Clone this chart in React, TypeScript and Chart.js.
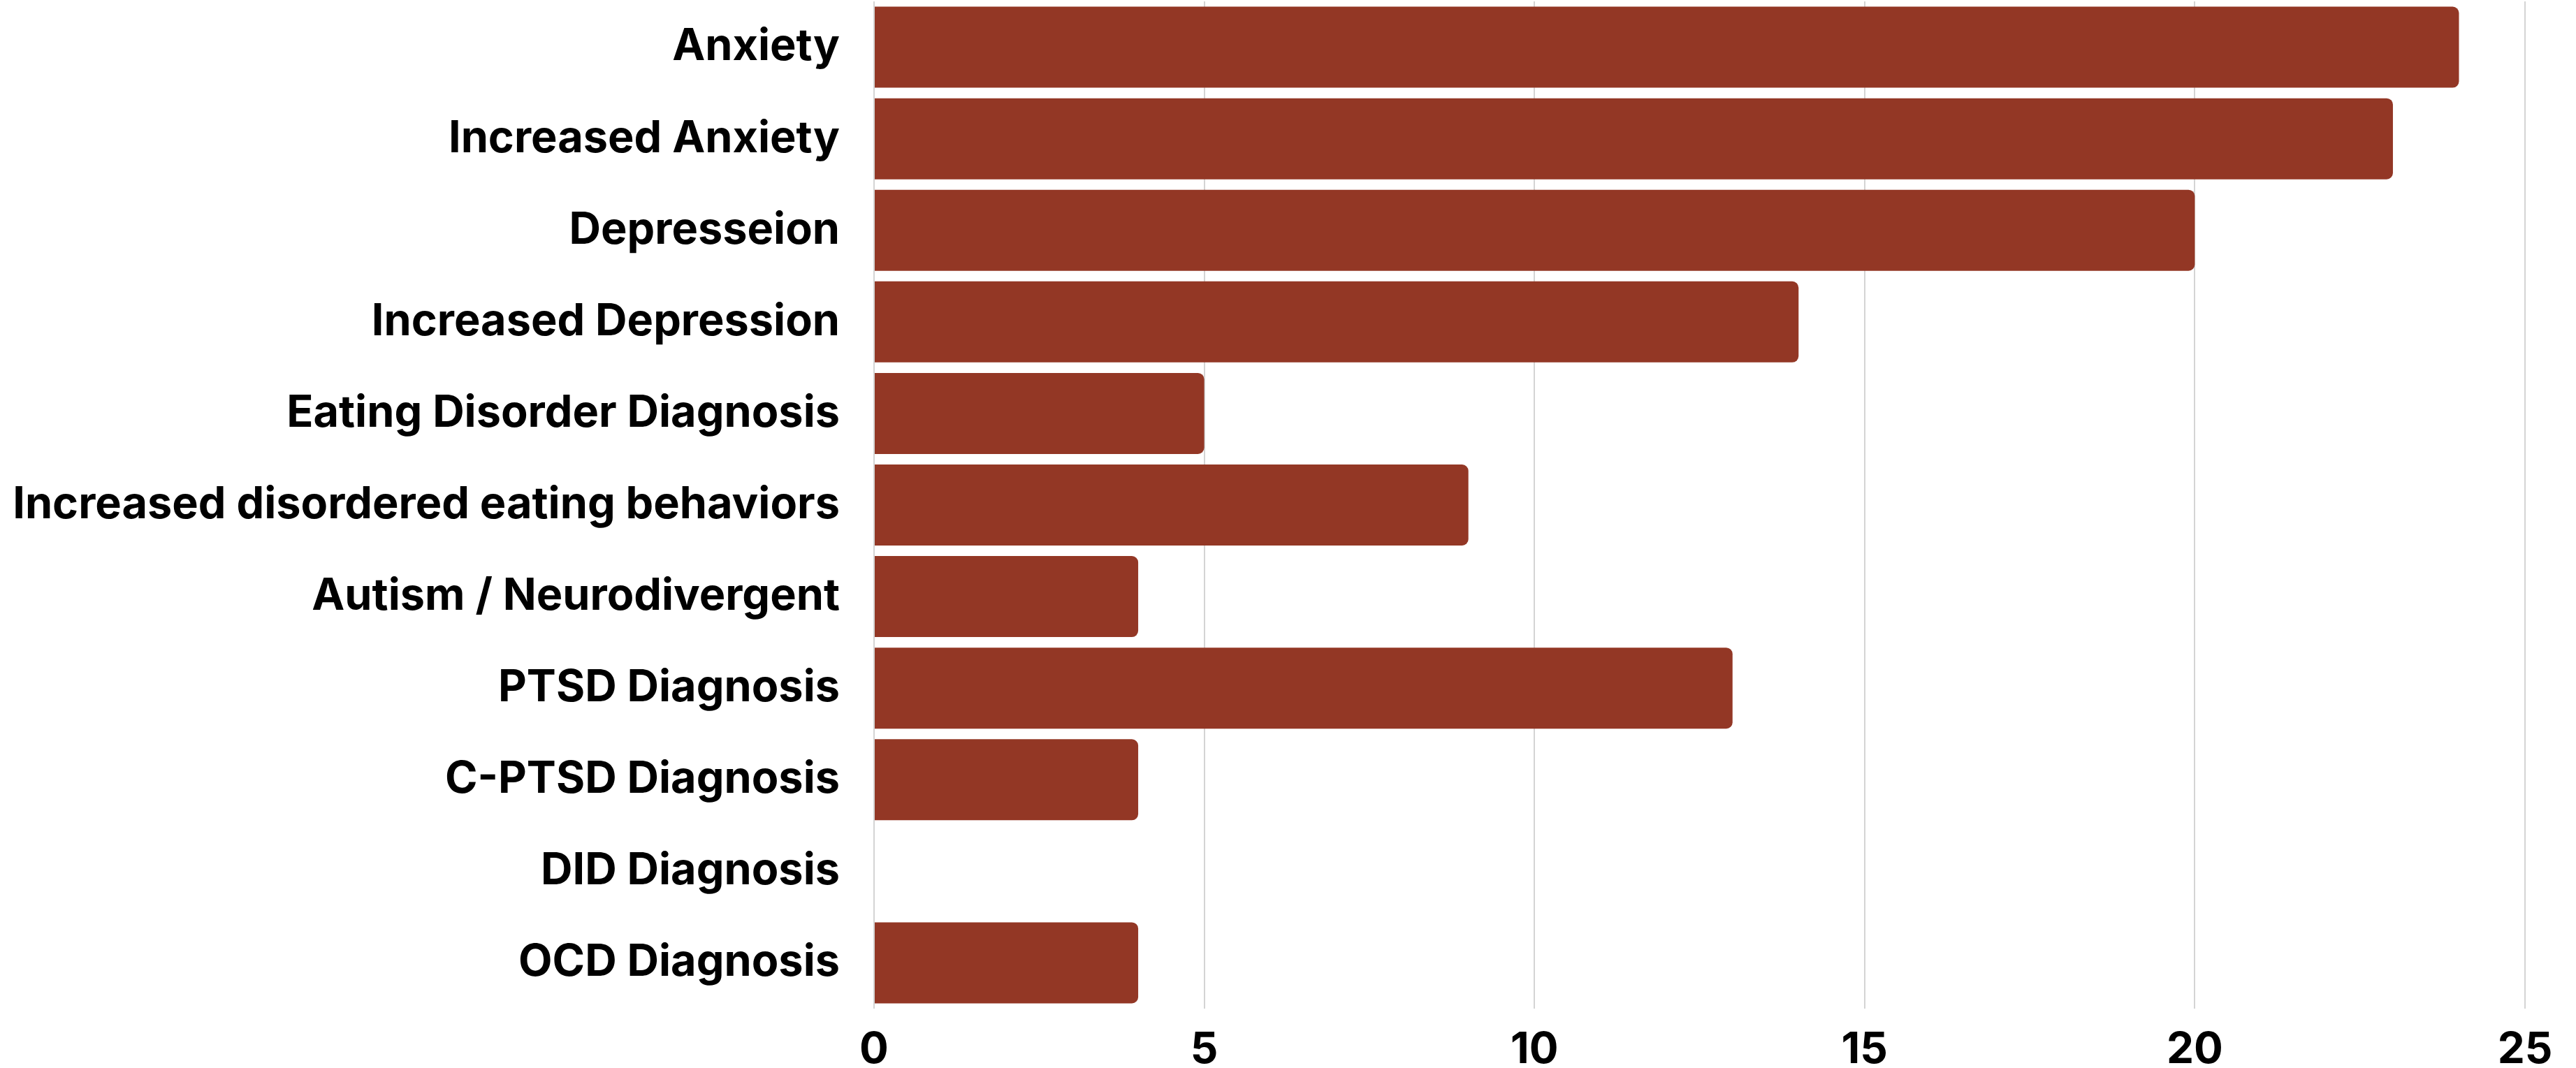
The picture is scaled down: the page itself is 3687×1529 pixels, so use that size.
import React, { useEffect, useRef } from "react";
import { Chart, registerables } from "chart.js";

Chart.register(...registerables);

const categories = [
  "Anxiety",
  "Increased Anxiety",
  "Depresseion",
  "Increased Depression",
  "Eating Disorder Diagnosis",
  "Increased disordered eating behaviors",
  "Autism / Neurodivergent",
  "PTSD Diagnosis",
  "C-PTSD Diagnosis",
  "DID Diagnosis",
  "OCD Diagnosis",
];
const counts = [24, 23, 20, 14, 5, 9, 4, 13, 4, 0, 4];
const xTicks = [0, 5, 10, 15, 20, 25];

const BAR_COLOR = "#933725";
const FONT = "Inter";

export default function App() {
  const ref = useRef<HTMLCanvasElement | null>(null);
  useEffect(() => {
    document.body.style.margin = "0";
    const ctx = ref.current!;
    const chart = new Chart(ctx, {
      type: "bar",
      data: {
        labels: categories,
        datasets: [
          {
            data: counts,
            backgroundColor: BAR_COLOR,
            borderWidth: 0,
            borderRadius: 9,
            borderSkipped: "start",
            barPercentage: 0.885,
            categoryPercentage: 1,
          },
        ],
      },
      options: {
        indexAxis: "y",
        animation: false,
        responsive: false,
        maintainAspectRatio: false,
        layout: { padding: { top: 2, right: 73, bottom: 0, left: 0 } },
        plugins: { legend: { display: false }, tooltip: { enabled: false } },
        scales: {
          x: {
            type: "linear",
            min: 0,
            max: 25,
            afterBuildTicks: (s: any) => {
              s.ticks = xTicks.map((v) => ({ value: v }));
            },
            afterFit: (s: any) => {
              s.height = 85;
              s.paddingTop = 0;
              s.paddingBottom = 0;
            },
            grid: { display: true, color: "#d4d4d4", lineWidth: 2, drawTicks: false },
            border: { display: false },
            ticks: {
              color: "#000",
              padding: 22,
              font: { family: FONT, size: 62, weight: "bold" },
            },
          },
          y: {
            type: "category",
            afterFit: (s: any) => {
              s.width = 1251;
              s.paddingTop = 0;
              s.paddingBottom = 0;
            },
            grid: { display: false, drawTicks: false },
            border: { display: false },
            ticks: {
              color: "#000",
              padding: 49,
              autoSkip: false,
              font: { family: FONT, size: 63, weight: "bold" },
            },
          },
        },
      },
    });
    return () => chart.destroy();
  }, []);
  return (
    <div style={{ position: "fixed", left: 0, top: 0, width: 3687, height: 1529, background: "#fff" }}>
      <canvas ref={ref} width={3687} height={1529} style={{ width: 3687, height: 1529, display: "block" }} />
    </div>
  );
}
